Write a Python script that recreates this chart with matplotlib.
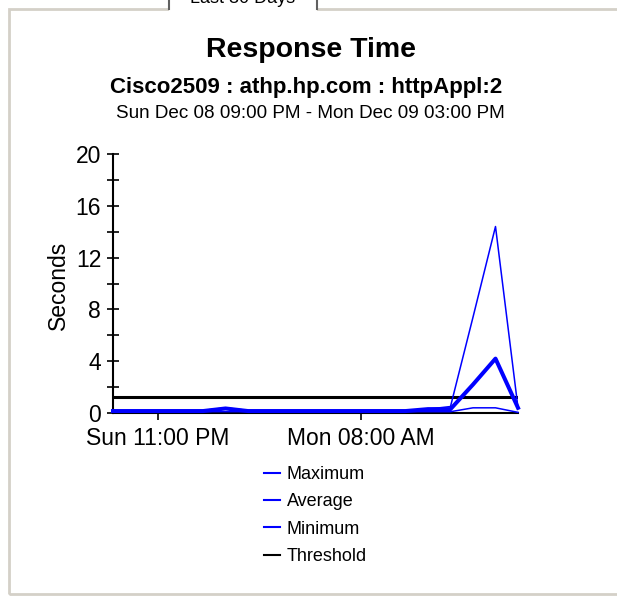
#!/usr/bin/env python3
"""Response time chart for Cisco2509 httpAppl:2, one day window."""
import matplotlib; matplotlib.use("Agg")
import matplotlib.pyplot as plt
import matplotlib.dates as mdates
from matplotlib.patches import Rectangle
from matplotlib.lines import Line2D
import pandas as pd

plt.rcParams["font.family"] = ["Liberation Sans", "DejaVu Sans"]

# hourly samples, Sun Dec 08 09:00 PM .. Mon Dec 09 03:00 PM
times = pd.date_range("2002-12-08 21:00", periods=19, freq="h")
maximum = [0.2, 0.2, 0.2, 0.2, 0.2, 0.4, 0.2, 0.2, 0.2, 0.2, 0.2, 0.2, 0.2, 0.2, 0.3, 0.5, 7.4, 14.4, 0.4]
average = [0.15, 0.15, 0.15, 0.15, 0.15, 0.35, 0.15, 0.15, 0.15, 0.15, 0.15, 0.15, 0.15, 0.15, 0.3, 0.3, 2.2, 4.2, 0.4]
minimum = [0.1, 0.1, 0.1, 0.1, 0.1, 0.1, 0.1, 0.1, 0.1, 0.1, 0.1, 0.1, 0.1, 0.1, 0.1, 0.1, 0.4, 0.4, 0.05]
threshold = [1.2] * 19
xticks = [pd.Timestamp("2002-12-08 23:00"), pd.Timestamp("2002-12-09 08:00")]

W, H = 617, 597
fig = plt.figure(figsize=(W / 100, H / 100), dpi=100)

# panel frame + tab
fig.patches.append(Rectangle((9 / W, 1 - 594 / H), (W + 20) / W, 585 / H, transform=fig.transFigure,
                             fill=False, edgecolor="#d4d0c8", lw=2, zorder=0))
fig.patches.append(Rectangle((169 / W, 1 - 12 / H), 148 / W, 14 / H, transform=fig.transFigure,
                             facecolor="white", edgecolor="none", zorder=1))
for xp in (169, 317):
    fig.add_artist(Line2D([xp / W, xp / W], [1 - 9 / H, 1.0], color="#606060", lw=1.5))
fig.text(243 / W, 1 - 3 / H, "Last 30 Days", ha="center", va="baseline", fontsize=13)

fig.text(311 / W, 1 - 50 / H, "Response Time", ha="center", va="center", fontsize=20.5, fontweight="bold")
fig.text(306 / W, 1 - 88 / H, "Cisco2509 : athp.hp.com : httpAppl:2", ha="center", va="center",
         fontsize=16, fontweight="bold")
fig.text(310 / W, 1 - 113 / H, "Sun Dec 08 09:00 PM - Mon Dec 09 03:00 PM", ha="center", va="center",
         fontsize=13.6)

ax = fig.add_axes([113 / W, 1 - 413 / H, 405 / W, 259 / H])
ax.plot(times, threshold, color="black", lw=2.2, label="Threshold", zorder=2)
ax.plot(times, maximum, color="#0000ff", lw=1.1, label="Maximum", zorder=3, clip_on=False)
ax.plot(times, average, color="#0000ff", lw=2.9, label="Average", zorder=3, clip_on=False)
ax.plot(times, minimum, color="#0000ff", lw=1.1, label="Minimum", zorder=3, clip_on=False)

ax.set_xlim(times[0], times[-1])
ax.set_ylim(0, 20)
ax.set_yticks(range(0, 21, 4))
ax.set_yticks(range(2, 21, 4), minor=True)
ax.set_xticks(xticks)
ax.xaxis.set_major_formatter(mdates.DateFormatter("%a %I:%M %p"))
ax.tick_params(axis="y", which="both", direction="inout", length=9, width=1.2, labelsize=16.5, pad=4)
ax.tick_params(axis="x", direction="out", length=5, width=1.2, labelsize=16.5, pad=5)
for s in ("top", "right"):
    ax.spines[s].set_visible(False)
for s in ("left", "bottom"):
    ax.spines[s].set_linewidth(1.5)
ax.set_ylabel("Seconds", fontsize=16.5)
ax.yaxis.set_label_coords(-0.106, 0.494)

h, l = ax.get_legend_handles_labels()
order = [1, 2, 3, 0]
fig.legend([h[i] for i in order], [l[i] for i in order], loc="upper left",
           bbox_to_anchor=(264 / W, 1 - 466 / H), frameon=False, fontsize=13,
           handlelength=0.9, handletextpad=0.35, labelspacing=0.57, borderpad=0, borderaxespad=0)
for lh in fig.legends[0].get_lines():
    lh.set_linewidth(1.5)

plt.savefig("out.png", dpi=100)
